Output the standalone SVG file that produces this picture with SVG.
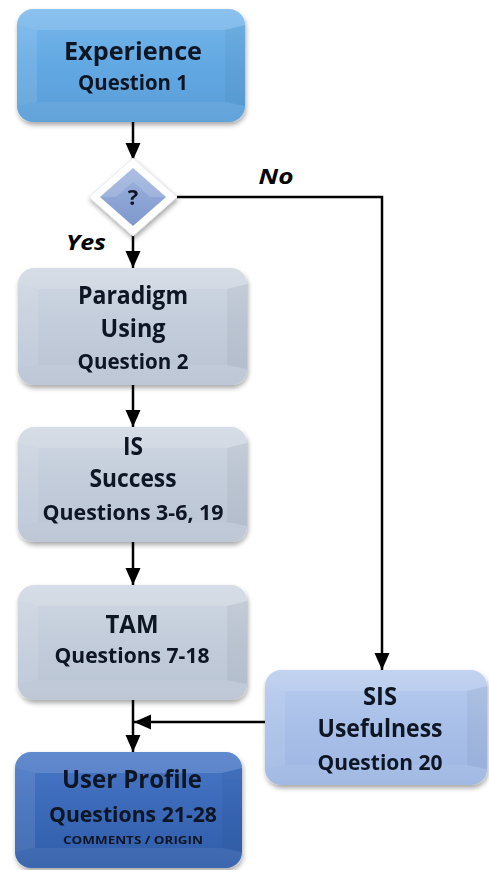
<svg xmlns="http://www.w3.org/2000/svg" width="489" height="870" viewBox="0 0 489 870">
  <defs>
    <linearGradient id="gBlue" x1="0" y1="0" x2="0" y2="1">
      <stop offset="0" stop-color="#78b8ec"/>
      <stop offset="0.5" stop-color="#62a8e2"/>
      <stop offset="1" stop-color="#5a9ed8"/>
    </linearGradient>
    <linearGradient id="gGray" x1="0" y1="0" x2="0" y2="1">
      <stop offset="0" stop-color="#d0d8e3"/>
      <stop offset="0.5" stop-color="#c2ccda"/>
      <stop offset="1" stop-color="#b9c4d4"/>
    </linearGradient>
    <linearGradient id="gLight" x1="0" y1="0" x2="0" y2="1">
      <stop offset="0" stop-color="#b8ccee"/>
      <stop offset="0.5" stop-color="#a8bfe8"/>
      <stop offset="1" stop-color="#9db6e2"/>
    </linearGradient>
    <linearGradient id="gDark" x1="0" y1="0" x2="0" y2="1">
      <stop offset="0" stop-color="#4877c6"/>
      <stop offset="0.5" stop-color="#3a69b8"/>
      <stop offset="1" stop-color="#315ea9"/>
    </linearGradient>
    <linearGradient id="gDiamond" x1="0" y1="0" x2="0" y2="1">
      <stop offset="0" stop-color="#9fb4df"/>
      <stop offset="1" stop-color="#7e98cd"/>
    </linearGradient>
    <filter id="shadow" x="-10%" y="-10%" width="125%" height="130%">
      <feGaussianBlur in="SourceAlpha" stdDeviation="2.5"/>
      <feOffset dx="1" dy="3" result="b"/>
      <feComponentTransfer><feFuncA type="linear" slope="0.35"/></feComponentTransfer>
      <feMerge><feMergeNode/><feMergeNode in="SourceGraphic"/></feMerge>
    </filter>
    <marker id="arrow" markerUnits="userSpaceOnUse" markerWidth="18" markerHeight="18" viewBox="0 0 18 18" refX="17" refY="9" orient="auto">
      <path d="M0,1.5 L17,9 L0,16.5 Z" fill="#000"/>
    </marker>
  </defs>
  <style>
    .bevel-l { fill: #ffffff; opacity: 0.10; }
    .bevel-t { fill: #ffffff; opacity: 0.14; }
    .bevel-r { fill: #000000; opacity: 0.04; }
    .bevel-b { fill: #ffffff; opacity: 0.06; }
    .t { font-family: "Open Sans", Lato, "Liberation Sans", sans-serif; font-weight: bold; fill: #0e1424; text-anchor: middle; }
    .big { font-size: 25px; }
    .mid { font-size: 21px; }
    .small { font-size: 11px; }
    .lbl { font-family: "Open Sans", Lato, "Liberation Sans", sans-serif; font-weight: bold; font-style: italic; font-size: 22px; fill: #000; text-anchor: middle; }
    .edge { fill: none; stroke: #000; stroke-width: 2.5; marker-end: url(#arrow); }
  </style>

  <rect width="489" height="870" fill="#ffffff"/>

  <!-- connectors -->
  <g id="connectors">
    <line class="edge" x1="133" y1="122" x2="133" y2="160"/>
    <line class="edge" x1="133" y1="235" x2="133" y2="268"/>
    <line class="edge" x1="133" y1="385" x2="133" y2="427"/>
    <line class="edge" x1="133" y1="542" x2="133" y2="585"/>
    <line class="edge" x1="133" y1="700" x2="133" y2="752"/>
    <polyline class="edge" points="177,197 382,197 382,670"/>
    <line class="edge" x1="265" y1="722" x2="134" y2="722"/>
    <text class="lbl" x="276" y="184" textLength="35" lengthAdjust="spacingAndGlyphs">No</text>
    <text class="lbl" x="86" y="250" textLength="40" lengthAdjust="spacingAndGlyphs">Yes</text>
  </g>

  <!-- Experience -->
  <g id="experience" filter="url(#shadow)">
    <rect x="17" y="9" width="228" height="113" rx="16" fill="url(#gBlue)"/>
    <path class="bevel-t" d="M33,9 H229 Q245,9 245,25 L225,30 H37 L17,25 Q17,9 33,9 Z"/>
    <path class="bevel-l" d="M17,25 L37,30 V102 L17,106 Z"/>
    <path class="bevel-r" d="M245,25 L225,30 V102 L245,106 Z"/>
    <path class="bevel-b" d="M17,106 L37,102 H225 L245,106 Q245,122 229,122 H33 Q17,122 17,106 Z"/>
    <text class="t big" x="133" y="60" textLength="138" lengthAdjust="spacingAndGlyphs">Experience</text>
    <text class="t mid" x="133" y="90" textLength="110" lengthAdjust="spacingAndGlyphs">Question 1</text>
  </g>

  <!-- Decision diamond -->
  <g id="decision" filter="url(#shadow)">
    <polygon points="133,158 177,197 133,236 89,197" fill="#ffffff" stroke="#e6e9ee" stroke-width="1"/>
    <polygon points="133,168 166,197 133,226 100,197" fill="url(#gDiamond)"/>
    <polygon points="133,168 166,197 150,197 133,182 116,197 100,197" fill="#ffffff" opacity="0.15"/>
    <text class="t" x="133" y="205" style="font-size:22px">?</text>
  </g>

  <!-- Paradigm Using -->
  <g id="paradigm" filter="url(#shadow)">
    <rect x="18" y="268" width="229" height="117" rx="16" fill="url(#gGray)"/>
    <path class="bevel-t" d="M34,268 H231 Q247,268 247,284 L227,289 H38 L18,284 Q18,268 34,268 Z"/>
    <path class="bevel-l" d="M18,284 L38,289 V365 L18,369 Z"/>
    <path class="bevel-r" d="M247,284 L227,289 V365 L247,369 Z"/>
    <path class="bevel-b" d="M18,369 L38,365 H227 L247,369 Q247,385 231,385 H34 Q18,385 18,369 Z"/>
    <text class="t big" x="133" y="304" textLength="110" lengthAdjust="spacingAndGlyphs">Paradigm</text>
    <text class="t big" x="133" y="337" textLength="65" lengthAdjust="spacingAndGlyphs">Using</text>
    <text class="t mid" x="133" y="369" textLength="111" lengthAdjust="spacingAndGlyphs">Question 2</text>
  </g>

  <!-- IS Success -->
  <g id="is-success" filter="url(#shadow)">
    <rect x="18" y="427" width="229" height="115" rx="16" fill="url(#gGray)"/>
    <path class="bevel-t" d="M34,427 H231 Q247,427 247,443 L227,448 H38 L18,443 Q18,427 34,427 Z"/>
    <path class="bevel-l" d="M18,443 L38,448 V522 L18,526 Z"/>
    <path class="bevel-r" d="M247,443 L227,448 V522 L247,526 Z"/>
    <path class="bevel-b" d="M18,526 L38,522 H227 L247,526 Q247,542 231,542 H34 Q18,542 18,526 Z"/>
    <text class="t big" x="133" y="455" textLength="20" lengthAdjust="spacingAndGlyphs">IS</text>
    <text class="t big" x="133" y="487" textLength="87" lengthAdjust="spacingAndGlyphs">Success</text>
    <text class="t mid" x="133" y="520" textLength="181" lengthAdjust="spacingAndGlyphs">Questions 3-6, 19</text>
  </g>

  <!-- TAM -->
  <g id="tam" filter="url(#shadow)">
    <rect x="18" y="585" width="229" height="115" rx="16" fill="url(#gGray)"/>
    <path class="bevel-t" d="M34,585 H231 Q247,585 247,601 L227,606 H38 L18,601 Q18,585 34,585 Z"/>
    <path class="bevel-l" d="M18,601 L38,606 V680 L18,684 Z"/>
    <path class="bevel-r" d="M247,601 L227,606 V680 L247,684 Z"/>
    <path class="bevel-b" d="M18,684 L38,680 H227 L247,684 Q247,700 231,700 H34 Q18,700 18,684 Z"/>
    <text class="t big" x="132" y="633" textLength="53" lengthAdjust="spacingAndGlyphs">TAM</text>
    <text class="t mid" x="132" y="663" textLength="155" lengthAdjust="spacingAndGlyphs">Questions 7-18</text>
  </g>

  <!-- SIS Usefulness -->
  <g id="sis-usefulness" filter="url(#shadow)">
    <rect x="265" y="670" width="222" height="115" rx="16" fill="url(#gLight)"/>
    <path class="bevel-t" d="M281,670 H471 Q487,670 487,686 L467,691 H285 L265,686 Q265,670 281,670 Z"/>
    <path class="bevel-l" d="M265,686 L285,691 V765 L265,769 Z"/>
    <path class="bevel-r" d="M487,686 L467,691 V765 L487,769 Z"/>
    <path class="bevel-b" d="M265,769 L285,765 H467 L487,769 Q487,785 471,785 H281 Q265,785 265,769 Z"/>
    <text class="t big" x="380" y="705" textLength="34" lengthAdjust="spacingAndGlyphs">SIS</text>
    <text class="t big" x="380" y="737" textLength="125" lengthAdjust="spacingAndGlyphs">Usefulness</text>
    <text class="t mid" x="380" y="770" textLength="125" lengthAdjust="spacingAndGlyphs">Question 20</text>
  </g>

  <!-- User Profile -->
  <g id="user-profile" filter="url(#shadow)">
    <rect x="15" y="752" width="227" height="116" rx="16" fill="url(#gDark)"/>
    <path class="bevel-t" d="M31,752 H226 Q242,752 242,768 L222,773 H35 L15,768 Q15,752 31,752 Z"/>
    <path class="bevel-l" d="M15,768 L35,773 V848 L15,852 Z"/>
    <path class="bevel-r" d="M242,768 L222,773 V848 L242,852 Z"/>
    <path class="bevel-b" d="M15,852 L35,848 H222 L242,852 Q242,868 226,868 H31 Q15,868 15,852 Z"/>
    <text class="t big" x="132" y="788" textLength="140" lengthAdjust="spacingAndGlyphs">User Profile</text>
    <text class="t mid" x="133" y="822" textLength="168" lengthAdjust="spacingAndGlyphs">Questions 21-28</text>
    <text class="t small" x="133" y="844" textLength="140" lengthAdjust="spacingAndGlyphs">COMMENTS / ORIGIN</text>
  </g>
</svg>
